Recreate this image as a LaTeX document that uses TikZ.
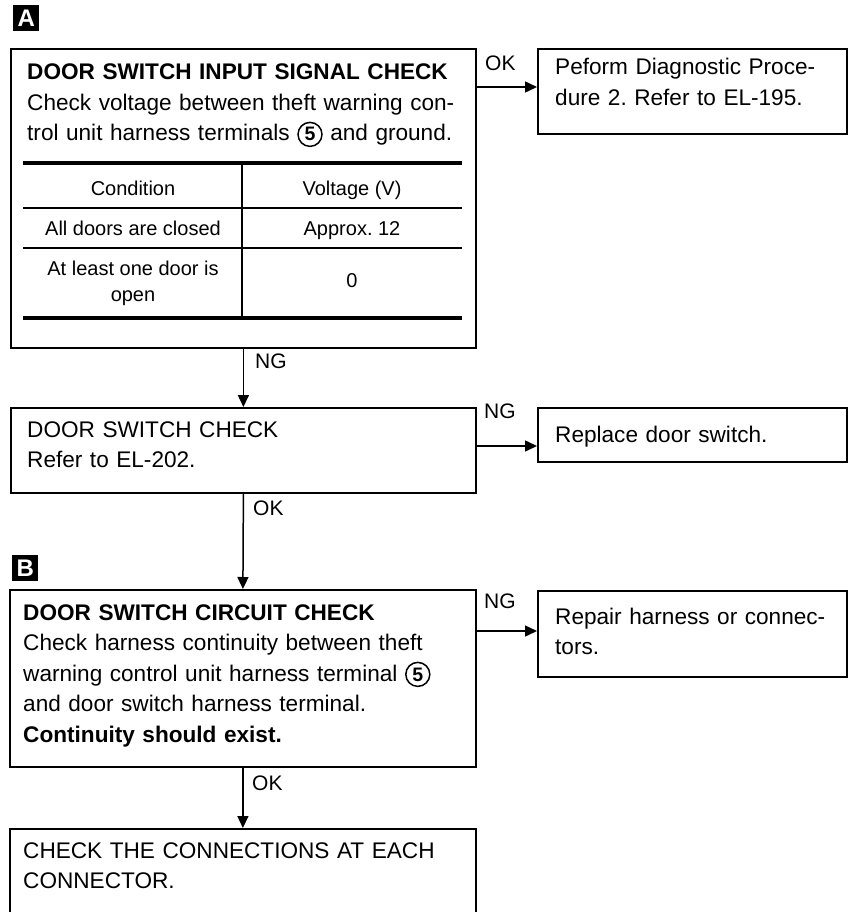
\documentclass[tikz,border=0pt]{standalone}
\usepackage{fontspec}
\setmainfont{Liberation Sans}
\usetikzlibrary{arrows.meta}
\frenchspacing
\newcommand\cfive{\tikz[baseline=(cf.base)]\node[circle,draw,line width=1.5pt,inner sep=0pt,minimum size=24pt,font=\bfseries\fontsize{19.5}{19.5}\selectfont](cf){5};}
\begin{document}
\begin{tikzpicture}[x=1pt,y=-1pt,
  box/.style={draw, line width=1.8pt, inner sep=0pt, anchor=north west, rectangle},
  txt/.style={anchor=base west, inner sep=0pt, align=left, text width=470pt, font=\fontsize{22.6}{30.5}\selectfont\frenchspacing},
  tbl/.style={anchor=base, inner sep=0pt, font=\fontsize{20}{26}\selectfont},
  lbl/.style={anchor=base west, inner sep=0pt, font=\fontsize{21}{21}\selectfont},
  arr/.style={line width=1.5pt, -{Triangle[length=12pt,width=11pt]}},
  tag/.style={fill=black, text=white, inner sep=0pt, minimum size=26pt, font=\bfseries\fontsize{24}{24}\selectfont, anchor=north west},
  thick rule/.style={line width=4pt},
  thin rule/.style={line width=1.5pt}]
\useasboundingbox (0,0) rectangle (850,912);
\clip (0,0) rectangle (850,912);

% section tags
\node[tag] (tA) at (13,5) {A};
\node[tag] (tB) at (12,555) {B};

% boxes
\node[box, minimum width=465pt, minimum height=299pt] (b1) at (10,48) {};
\node[box, minimum width=309pt, minimum height=85pt] (b2) at (537,48) {};
\node[box, minimum width=465pt, minimum height=85pt] (b3) at (10,407) {};
\node[box, minimum width=309pt, minimum height=54pt] (b4) at (537,407) {};
\node[box, minimum width=466pt, minimum height=177pt] (b5) at (9,589) {};
\node[box, minimum width=309pt, minimum height=86pt] (b6) at (537,590) {};
\node[box, minimum width=466pt, minimum height=90pt] (b7) at (9,828) {};

% box texts
\node[txt] (t1) at (27,80) {\textbf{DOOR SWITCH INPUT SIGNAL CHECK}\\Check voltage between theft warning con-\\trol unit harness terminals \cfive{} and ground.};
\node[txt] (t2) at (555,75) {Peform Diagnostic Proce-\\dure 2. Refer to EL-195.};
\node[txt] (t3) at (27,437) {DOOR SWITCH CHECK\\Refer to EL-202.};
\node[txt] (t4) at (555,442) {Replace door switch.};
\node[txt] (t5) at (23,620) {\textbf{DOOR SWITCH CIRCUIT CHECK}\\Check harness continuity between theft\\warning control unit harness terminal \cfive\\and door switch harness terminal.\\\textbf{Continuity should exist.}};
\node[txt] (t6) at (555,624) {Repair harness or connec-\\tors.};
\node[txt] (t7) at (23,858) {CHECK THE CONNECTIONS AT EACH\\CONNECTOR.};

% table
\draw[thick rule] (23,163) -- (462,163);
\draw[thin rule] (23,208) -- (462,208);
\draw[thin rule] (23,248) -- (462,248);
\draw[thick rule] (23,318) -- (462,318);
\draw[line width=1.8pt] (242,163) -- (242,318);
\node[tbl] (h1) at (133,195) {Condition};
\node[tbl] (h2) at (352,195) {Voltage (V)};
\node[tbl] (r1a) at (133,235) {All doors are closed};
\node[tbl] (r1b) at (352,235) {Approx. 12};
\node[tbl] (r2a) at (133,275) {At least one door is};
\node[tbl] (r2c) at (133,301) {open};
\node[tbl] (r2b) at (352,287) {0};

% connectors
\coordinate (y1) at (0,87);
\coordinate (y2) at (0,446);
\coordinate (y3) at (0,631);
\draw[arr] (b1.east |- y1) -- (b2.west |- y1);
\draw[arr] (b3.east |- y2) -- (b4.west |- y2);
\draw[arr] (b5.east |- y3) -- (b6.west |- y3);
\draw[arr] (b1.south) -- (b3.north);
\draw[arr] (b3.south) -- (b5.north);
\draw[arr] (b5.south) -- (b7.north);

% connector labels
\node[lbl] (l1) at (485,71) {OK};
\node[lbl] (l2) at (255,368) {NG};
\node[lbl] (l3) at (484,418) {NG};
\node[lbl] (l4) at (253,515) {OK};
\node[lbl] (l5) at (484,608) {NG};
\node[lbl] (l6) at (252,790) {OK};
\end{tikzpicture}
\end{document}
